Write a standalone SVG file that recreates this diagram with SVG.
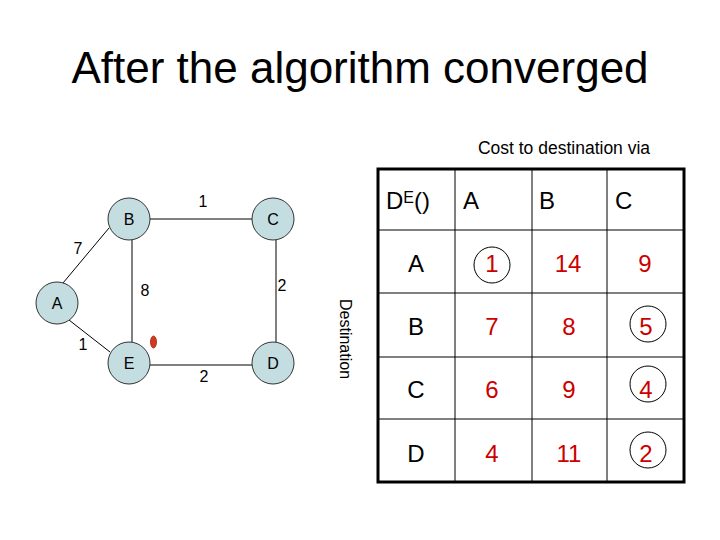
<svg xmlns="http://www.w3.org/2000/svg" width="720" height="540" viewBox="0 0 720 540">
<style>
text{font-family:"Liberation Sans",Arial,sans-serif;fill:#000}
.node{fill:#c3dde0;stroke:#333;stroke-width:1}
.nl{font-size:16px;text-anchor:middle}
.el{font-size:16px;text-anchor:middle}
.edge{stroke:#000;stroke-width:1;fill:none}
.grid{stroke:#000;stroke-width:1}
.hd{font-size:24px}
.rl{font-size:24px;text-anchor:middle}
.v{font-size:24px;text-anchor:middle;fill:#cc0000}
.ring{fill:none;stroke:#000;stroke-width:1}
</style>
<rect width="720" height="540" fill="#fff"/>
<text x="360" y="83" font-size="44" text-anchor="middle">After the algorithm converged</text>
<text x="564" y="154" font-size="17.5" text-anchor="middle">Cost to destination via</text>

<g id="connectors">
<line class="edge" x1="150" y1="219" x2="252" y2="219"/>
<line class="edge" x1="132" y1="240" x2="132" y2="342"/>
<line class="edge" x1="276" y1="240" x2="276" y2="342"/>
<line class="edge" x1="150" y1="365" x2="252" y2="365"/>
<line class="edge" x1="63" y1="283" x2="109" y2="228"/>
<line class="edge" x1="69" y1="320" x2="110" y2="352"/>
<text class="el" x="203" y="207">1</text>
<text class="el" x="78" y="254">7</text>
<text class="el" x="145" y="296">8</text>
<text class="el" x="282" y="291">2</text>
<text class="el" x="83" y="350">1</text>
<text class="el" x="204" y="382">2</text>
</g>

<g id="node-B"><circle class="node" cx="129" cy="219" r="21"/><text class="nl" x="129" y="225">B</text></g>
<g id="node-C"><circle class="node" cx="273" cy="219" r="21"/><text class="nl" x="273" y="225">C</text></g>
<g id="node-A"><circle class="node" cx="57" cy="303" r="21"/><text class="nl" x="57" y="309">A</text></g>
<g id="node-E"><circle class="node" cx="129" cy="363" r="21"/><text class="nl" x="129" y="369">E</text></g>
<g id="node-D"><circle class="node" cx="273" cy="363" r="21"/><text class="nl" x="273" y="369">D</text></g>

<ellipse cx="153.5" cy="342" rx="3" ry="6" fill="#d03a20" stroke="#a02010" stroke-width="0.8"/>

<text transform="translate(340,339) rotate(90)" font-size="16" text-anchor="middle">Destination</text>

<g id="table">
<rect x="378" y="169" width="306" height="313" fill="none" stroke="#000" stroke-width="3"/>
<line class="grid" x1="455" y1="169" x2="455" y2="482"/>
<line class="grid" x1="532" y1="169" x2="532" y2="482"/>
<line class="grid" x1="607" y1="169" x2="607" y2="482"/>
<line class="grid" x1="378" y1="230" x2="684" y2="230"/>
<line class="grid" x1="378" y1="293" x2="684" y2="293"/>
<line class="grid" x1="378" y1="357" x2="684" y2="357"/>
<line class="grid" x1="378" y1="419" x2="684" y2="419"/>

<text class="hd" x="386" y="209">D<tspan font-size="16" dy="-6">E</tspan><tspan dy="6">()</tspan></text>
<text class="hd" x="463" y="209">A</text>
<text class="hd" x="539" y="209">B</text>
<text class="hd" x="615" y="209">C</text>

<text class="rl" x="416" y="272">A</text>
<text class="rl" x="416" y="335">B</text>
<text class="rl" x="416" y="398">C</text>
<text class="rl" x="416" y="462">D</text>

<text class="v" x="492" y="272">1</text>
<text class="v" x="568" y="272" font-size="22">14</text>
<text class="v" x="645" y="272">9</text>
<text class="v" x="492" y="335">7</text>
<text class="v" x="569" y="335">8</text>
<text class="v" x="646" y="335">5</text>
<text class="v" x="492" y="398">6</text>
<text class="v" x="569" y="398">9</text>
<text class="v" x="646" y="398">4</text>
<text class="v" x="492" y="462">4</text>
<text class="v" x="569" y="462">11</text>
<text class="v" x="646" y="462">2</text>

<circle class="ring" cx="492" cy="265" r="18"/>
<circle class="ring" cx="648" cy="324" r="18"/>
<circle class="ring" cx="648" cy="384" r="18"/>
<circle class="ring" cx="648" cy="450" r="18"/>
</g>
</svg>
